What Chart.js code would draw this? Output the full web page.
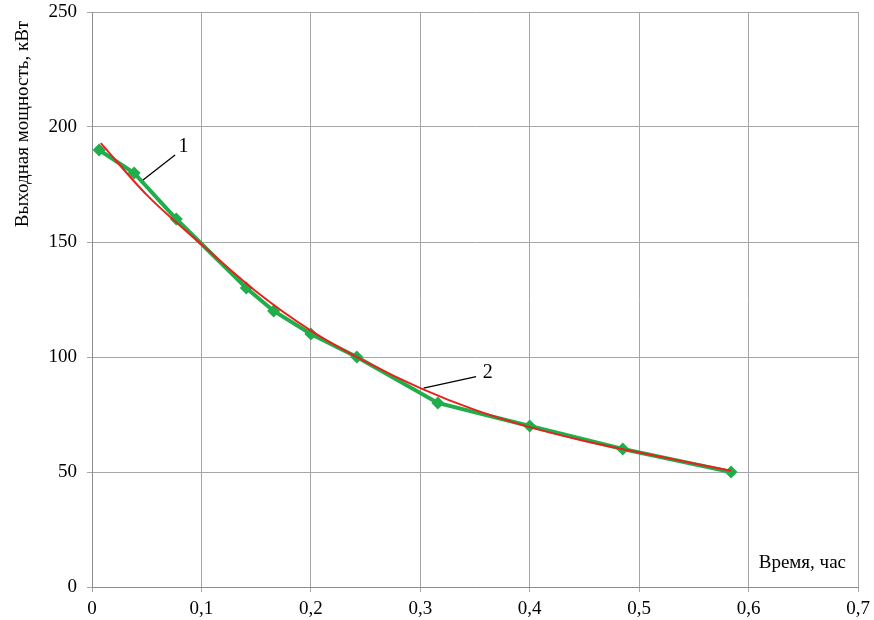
<!DOCTYPE html>
<html><head><meta charset="utf-8">
<script src="https://cdn.jsdelivr.net/npm/chart.js@4"></script>
<style>html,body{margin:0;padding:0;background:#fff}#w{width:874px;height:620px}</style>
</head><body><div id="w"><canvas id="c" width="874" height="620"></canvas></div>
<script>
const xTicks = [0, 0.1, 0.2, 0.3, 0.4, 0.5, 0.6, 0.7];
const yTicks = [0, 50, 100, 150, 200, 250];
const s1x = [0.0065, 0.0385, 0.077, 0.141, 0.166, 0.2, 0.242, 0.316, 0.4, 0.485, 0.584];
const s1y = [190, 180, 160, 130, 120, 110, 100, 80, 70, 60, 50];
const s2x = [0.008, 0.05, 0.1, 0.15, 0.2, 0.25, 0.3, 0.35, 0.4, 0.45, 0.5, 0.584];
const s2y = [193, 170.5, 149, 128.5, 111.5, 98, 86.5, 77, 69.5, 63.5, 58.5, 50.5];
const xTitle = 'Время, час';
const yTitle = 'Выходная мощность, кВт';
const labels = [{t:'1', x:0.079, y:191.5, lx0:0.0466, ly0:177, lx1:0.0759, ly1:187.8},
                {t:'2', x:0.357, y:93, lx0:0.303, ly0:86.5, lx1:0.351, ly1:91.5}];

const serif = '"Liberation Serif", "DejaVu Serif", serif';
const annot = {
  id:'annot',
  afterDatasetsDraw(chart){
    const ctx = chart.ctx, xs = chart.scales.x, ys = chart.scales.y, ca = chart.chartArea;
    ctx.save();
    ctx.fillStyle = '#000'; ctx.strokeStyle = '#000'; ctx.lineWidth = 1.3;
    ctx.font = '20px ' + serif;
    labels.forEach(l => {
      ctx.beginPath();
      ctx.moveTo(xs.getPixelForValue(l.lx0), ys.getPixelForValue(l.ly0));
      ctx.lineTo(xs.getPixelForValue(l.lx1), ys.getPixelForValue(l.ly1));
      ctx.stroke();
      ctx.textAlign = 'left'; ctx.textBaseline = 'middle';
      ctx.fillText(l.t, xs.getPixelForValue(l.x), ys.getPixelForValue(l.y));
    });
    ctx.font = '19px ' + serif;
    ctx.textAlign = 'right'; ctx.textBaseline = 'middle';
    ctx.fillText(xTitle, ca.right - 12, ca.bottom - 24);
    ctx.translate(23, ca.top + 112);
    ctx.rotate(-Math.PI/2);
    ctx.textAlign = 'center';
    ctx.fillText(yTitle, 0, 0);
    ctx.restore();
  }
};

new Chart(document.getElementById('c'), {
  type:'line',
  data:{datasets:[
    {label:'2', data:s2x.map((x,i)=>({x, y:s2y[i]})), borderColor:'#e8211c', borderWidth:2,
     pointRadius:0, cubicInterpolationMode:'monotone', fill:false, order:1},
    {label:'1', data:s1x.map((x,i)=>({x, y:s1y[i]})), borderColor:'#1fae4b', backgroundColor:'#1fae4b',
     borderWidth:4, pointStyle:'rectRot', pointRadius:6.5, pointBorderWidth:0, tension:0, fill:false, order:2}
  ]},
  options:{
    responsive:false, animation:false, devicePixelRatio:1,
    layout:{padding:{top:12, right:16, left:0, bottom:0}},
    plugins:{legend:{display:false}, tooltip:{enabled:false}},
    scales:{
      x:{type:'linear', min:0, max:0.7,
        afterBuildTicks(s){ s.ticks = xTicks.map(v=>({value:v})); },
        afterFit(s){ s.height = 33; s.paddingLeft = 0; s.paddingRight = 0; },
        grid:{color:'#a6a6a6', lineWidth:1, tickLength:5, drawTicks:true},
        border:{color:'#8c8c8c'},
        ticks:{color:'#000', font:{family:serif, size:19}, padding:6, maxRotation:0,
          callback:v=>String(Math.round(v*10)/10).replace('.',',')}},
      y:{type:'linear', min:0, max:250,
        afterBuildTicks(s){ s.ticks = yTicks.map(v=>({value:v})); },
        afterFit(s){ s.width = 92; s.paddingTop = 0; s.paddingBottom = 0; },
        grid:{color:'#a6a6a6', lineWidth:1, tickLength:5},
        border:{color:'#8c8c8c'},
        ticks:{color:'#000', font:{family:serif, size:19}, padding:10}}
    }
  },
  plugins:[annot]
});
</script></body></html>
